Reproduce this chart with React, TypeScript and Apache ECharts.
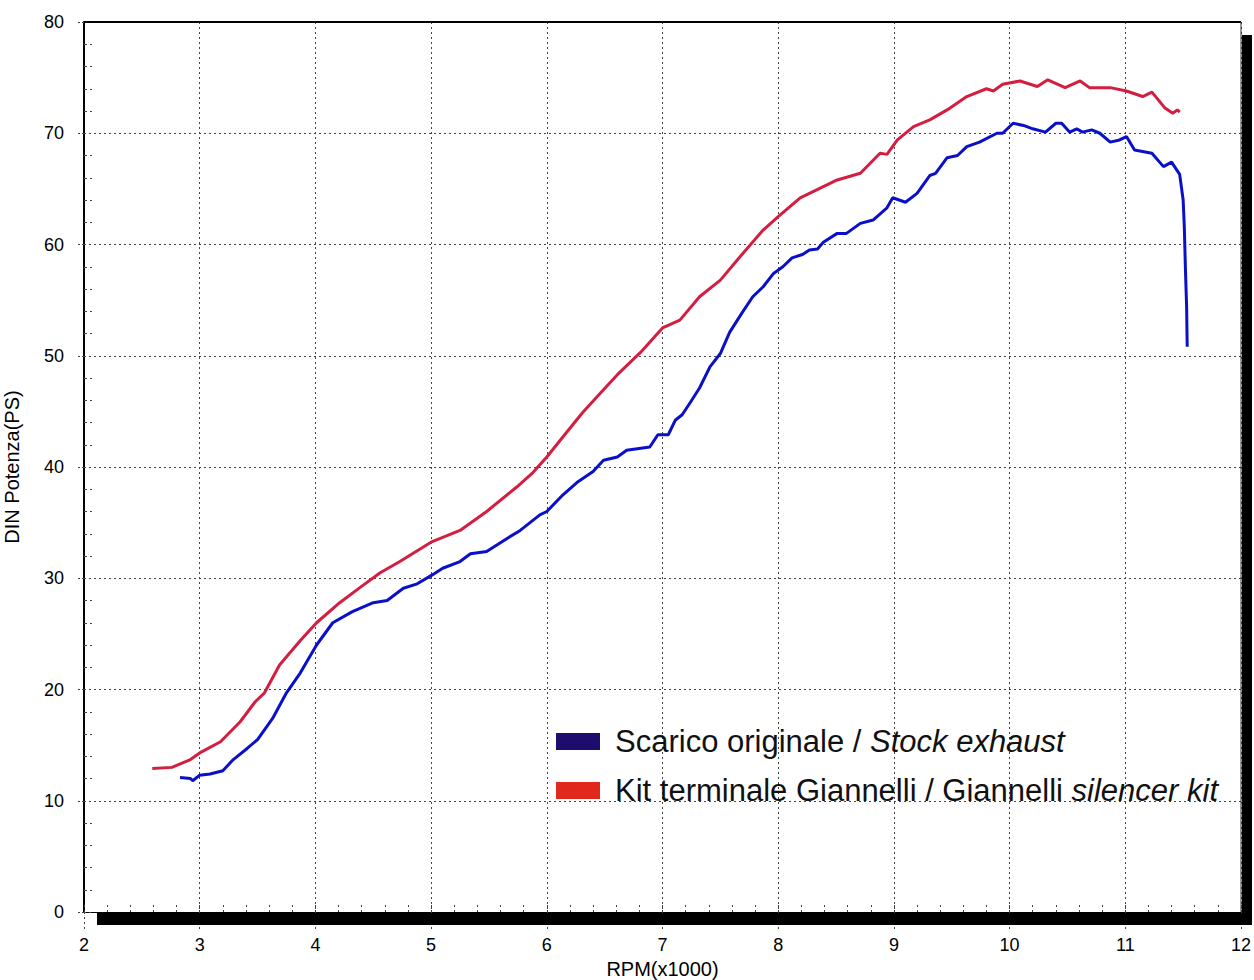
import React, { useEffect, useRef } from "react";
import * as echarts from "echarts";

const xTicks = [2, 3, 4, 5, 6, 7, 8, 9, 10, 11, 12];
const yTicks = [0, 10, 20, 30, 40, 50, 60, 70, 80];

const seriesNames = [
  "Scarico originale / Stock exhaust",
  "Kit terminale Giannelli / Giannelli silencer kit",
];

const stockRpm = [
  2.83, 2.92, 2.94, 3.0, 3.09, 3.2, 3.29, 3.41, 3.5, 3.63, 3.75, 3.87, 4.01, 4.15, 4.32, 4.5, 4.62,
  4.76, 4.88, 5.01, 5.1, 5.25, 5.34, 5.48, 5.66, 5.77, 5.94, 6.0, 6.14, 6.26, 6.4, 6.49, 6.61, 6.69,
  6.89, 6.96, 7.05, 7.11, 7.17, 7.24, 7.32, 7.41, 7.5, 7.58, 7.69, 7.78, 7.87, 7.96, 8.04, 8.12,
  8.21, 8.27, 8.34, 8.39, 8.51, 8.59, 8.71, 8.82, 8.94, 8.99, 9.1, 9.2, 9.31, 9.36, 9.46, 9.55,
  9.63, 9.74, 9.89, 9.94, 10.03, 10.12, 10.2, 10.31, 10.4, 10.45, 10.52, 10.58, 10.63, 10.71,
  10.78, 10.87, 10.95, 11.01, 11.08, 11.23, 11.33, 11.4, 11.47, 11.5, 11.51, 11.52, 11.53, 11.535,
];
const stockPs = [
  12.1, 12.0, 11.8, 12.3, 12.4, 12.7, 13.7, 14.7, 15.5, 17.4, 19.7, 21.5, 24.0, 26.0, 27.0, 27.8,
  28.0, 29.1, 29.5, 30.3, 30.9, 31.5, 32.2, 32.4, 33.6, 34.3, 35.7, 36.0, 37.5, 38.6, 39.6, 40.6,
  40.9, 41.5, 41.8, 42.9, 42.9, 44.2, 44.7, 45.8, 47.1, 49.0, 50.2, 52.1, 53.9, 55.3, 56.2, 57.4,
  58.0, 58.8, 59.1, 59.5, 59.6, 60.2, 61.0, 61.0, 61.9, 62.2, 63.3, 64.2, 63.8, 64.6, 66.2, 66.4,
  67.8, 68.0, 68.8, 69.2, 70.0, 70.0, 70.9, 70.7, 70.4, 70.1, 70.9, 70.9, 70.1, 70.4, 70.1, 70.3,
  70.0, 69.2, 69.4, 69.7, 68.5, 68.2, 67.0, 67.4, 66.3, 64.0, 61.6, 57.7, 54.4, 50.8,
];

const kitRpm = [
  2.59, 2.76, 2.92, 3.0, 3.18, 3.35, 3.48, 3.56, 3.69, 3.87, 4.01, 4.21, 4.39, 4.56, 4.73, 5.01,
  5.25, 5.48, 5.74, 5.88, 6.0, 6.17, 6.31, 6.46, 6.61, 6.81, 7.0, 7.15, 7.32, 7.5, 7.67, 7.87, 8.0,
  8.19, 8.51, 8.71, 8.88, 8.94, 9.03, 9.17, 9.31, 9.46, 9.63, 9.8, 9.86, 9.94, 10.09, 10.24, 10.33,
  10.48, 10.61, 10.69, 10.87, 11.01, 11.15, 11.23, 11.34, 11.41, 11.45, 11.47,
];
const kitPs = [
  12.9, 13.0, 13.7, 14.3, 15.3, 17.1, 18.9, 19.7, 22.2, 24.4, 26.0, 27.8, 29.2, 30.5, 31.5, 33.3,
  34.3, 36.0, 38.2, 39.5, 40.9, 43.1, 44.9, 46.6, 48.3, 50.3, 52.5, 53.2, 55.3, 56.8, 58.9, 61.3,
  62.5, 64.2, 65.8, 66.4, 68.2, 68.1, 69.4, 70.6, 71.2, 72.1, 73.3, 74.0, 73.8, 74.4, 74.7, 74.2,
  74.8, 74.1, 74.7, 74.1, 74.1, 73.8, 73.3, 73.7, 72.3, 71.8, 72.1, 71.9,
];

const lineColors = ["#0a10c8", "#d41e40"];
const legendColors = ["#1e0c6e", "#e0281c"];

export default function App() {
  const ref = useRef<HTMLDivElement>(null);
  useEffect(() => {
    if (!ref.current) return;
    const chart = echarts.init(ref.current, null, { renderer: "svg" });
    const L = 84, T = 22, R = 1241, B = 912;
    const font = "'Liberation Sans', Arial, sans-serif";
    const dotted = { color: "#444", width: 1, type: [2, 3] as any };
    const legendRich = {
      n: { fontFamily: font, fontSize: 31, fill: "#111" },
      i: { fontFamily: font, fontSize: 31, fill: "#111", fontStyle: "italic" },
    };
    chart.setOption({
      animation: false,
      backgroundColor: "#fff",
      grid: {
        left: L,
        top: T,
        right: 1254 - R,
        bottom: 980 - B,
        containLabel: false,
        outerBoundsMode: "none",
      },
      xAxis: [
        {
          type: "value",
          min: xTicks[0],
          max: xTicks[xTicks.length - 1],
          interval: 1,
          name: "RPM(x1000)",
          nameLocation: "middle",
          nameGap: 47,
          nameTextStyle: { fontFamily: font, fontSize: 20, color: "#000" },
          axisLine: { show: true, lineStyle: { color: "#000", width: 1 } },
          axisTick: { show: true, inside: true, length: 8, lineStyle: dotted },
          minorTick: { show: true, splitNumber: 5, length: 8, lineStyle: dotted },
          axisLabel: { fontFamily: font, fontSize: 18, color: "#000", margin: 24 },
          splitLine: { show: true, lineStyle: dotted },
        },
        {
          type: "value",
          min: xTicks[0],
          max: xTicks[xTicks.length - 1],
          interval: 1,
          position: "bottom",
          axisLine: { show: false },
          axisTick: { show: true, inside: false, length: 18, lineStyle: dotted },
          axisLabel: { show: false },
          splitLine: { show: false },
        },
      ],
      yAxis: [
        {
          type: "value",
          min: yTicks[0],
          max: yTicks[yTicks.length - 1],
          interval: 10,
          name: "DIN Potenza(PS)",
          nameLocation: "middle",
          nameGap: 62,
          nameTextStyle: { fontFamily: font, fontSize: 20, color: "#000" },
          axisLine: { show: true, lineStyle: { color: "#000", width: 2 } },
          axisTick: { show: true, inside: true, length: 8, lineStyle: dotted },
          minorTick: { show: true, splitNumber: 5, length: 8, lineStyle: { color: "#444", width: 1, type: [3, 3] } },
          axisLabel: { fontFamily: font, fontSize: 18, color: "#000", margin: 20 },
          splitLine: { show: true, lineStyle: dotted },
        },
        {
          type: "value",
          min: yTicks[0],
          max: yTicks[yTicks.length - 1],
          interval: 10,
          position: "left",
          axisLine: { show: false },
          axisTick: { show: true, inside: false, length: 6, lineStyle: { color: "#444", width: 1, type: [2, 2] } },
          axisLabel: { show: false },
          splitLine: { show: false },
        },
      ],
      series: [
        {
          name: seriesNames[0],
          type: "line",
          data: stockRpm.map((x, i) => [x, stockPs[i]]),
          showSymbol: false,
          symbol: "none",
          lineStyle: { color: lineColors[0], width: 3 },
          z: 3,
        },
        {
          name: seriesNames[1],
          type: "line",
          data: kitRpm.map((x, i) => [x, kitPs[i]]),
          showSymbol: false,
          symbol: "none",
          lineStyle: { color: lineColors[1], width: 3 },
          z: 3,
        },
      ],
      graphic: [
        { type: "rect", z: 100, shape: { x: 97, y: 913, width: 1154, height: 12 }, style: { fill: "#000" } },
        { type: "rect", z: 100, shape: { x: 1242, y: 35, width: 10, height: 890 }, style: { fill: "#000" } },
        { type: "line", z: 100, shape: { x1: L, y1: T, x2: R, y2: T }, style: { stroke: "#000", lineWidth: 2 } },
        { type: "line", z: 100, shape: { x1: R, y1: T, x2: R, y2: B }, style: { stroke: "#333", lineWidth: 1 } },
        { type: "rect", z: 100, shape: { x: 556, y: 733, width: 44, height: 17 }, style: { fill: legendColors[0] } },
        { type: "rect", z: 100, shape: { x: 556, y: 782, width: 44, height: 17 }, style: { fill: legendColors[1] } },
        {
          type: "text",
          z: 100,
          x: 615,
          y: 741,
          style: {
            text: "{n|Scarico originale / }{i|Stock exhaust}",
            verticalAlign: "middle",
            rich: legendRich,
          },
        },
        {
          type: "text",
          z: 100,
          x: 615,
          y: 790,
          style: {
            text: "{n|Kit terminale Giannelli / Giannelli }{i|silencer kit}",
            verticalAlign: "middle",
            rich: legendRich,
          },
        },
      ],
    });
    return () => chart.dispose();
  }, []);
  return (
    <div
      ref={ref}
      style={{ position: "fixed", left: 0, top: 0, width: 1254, height: 980 }}
    />
  );
}
